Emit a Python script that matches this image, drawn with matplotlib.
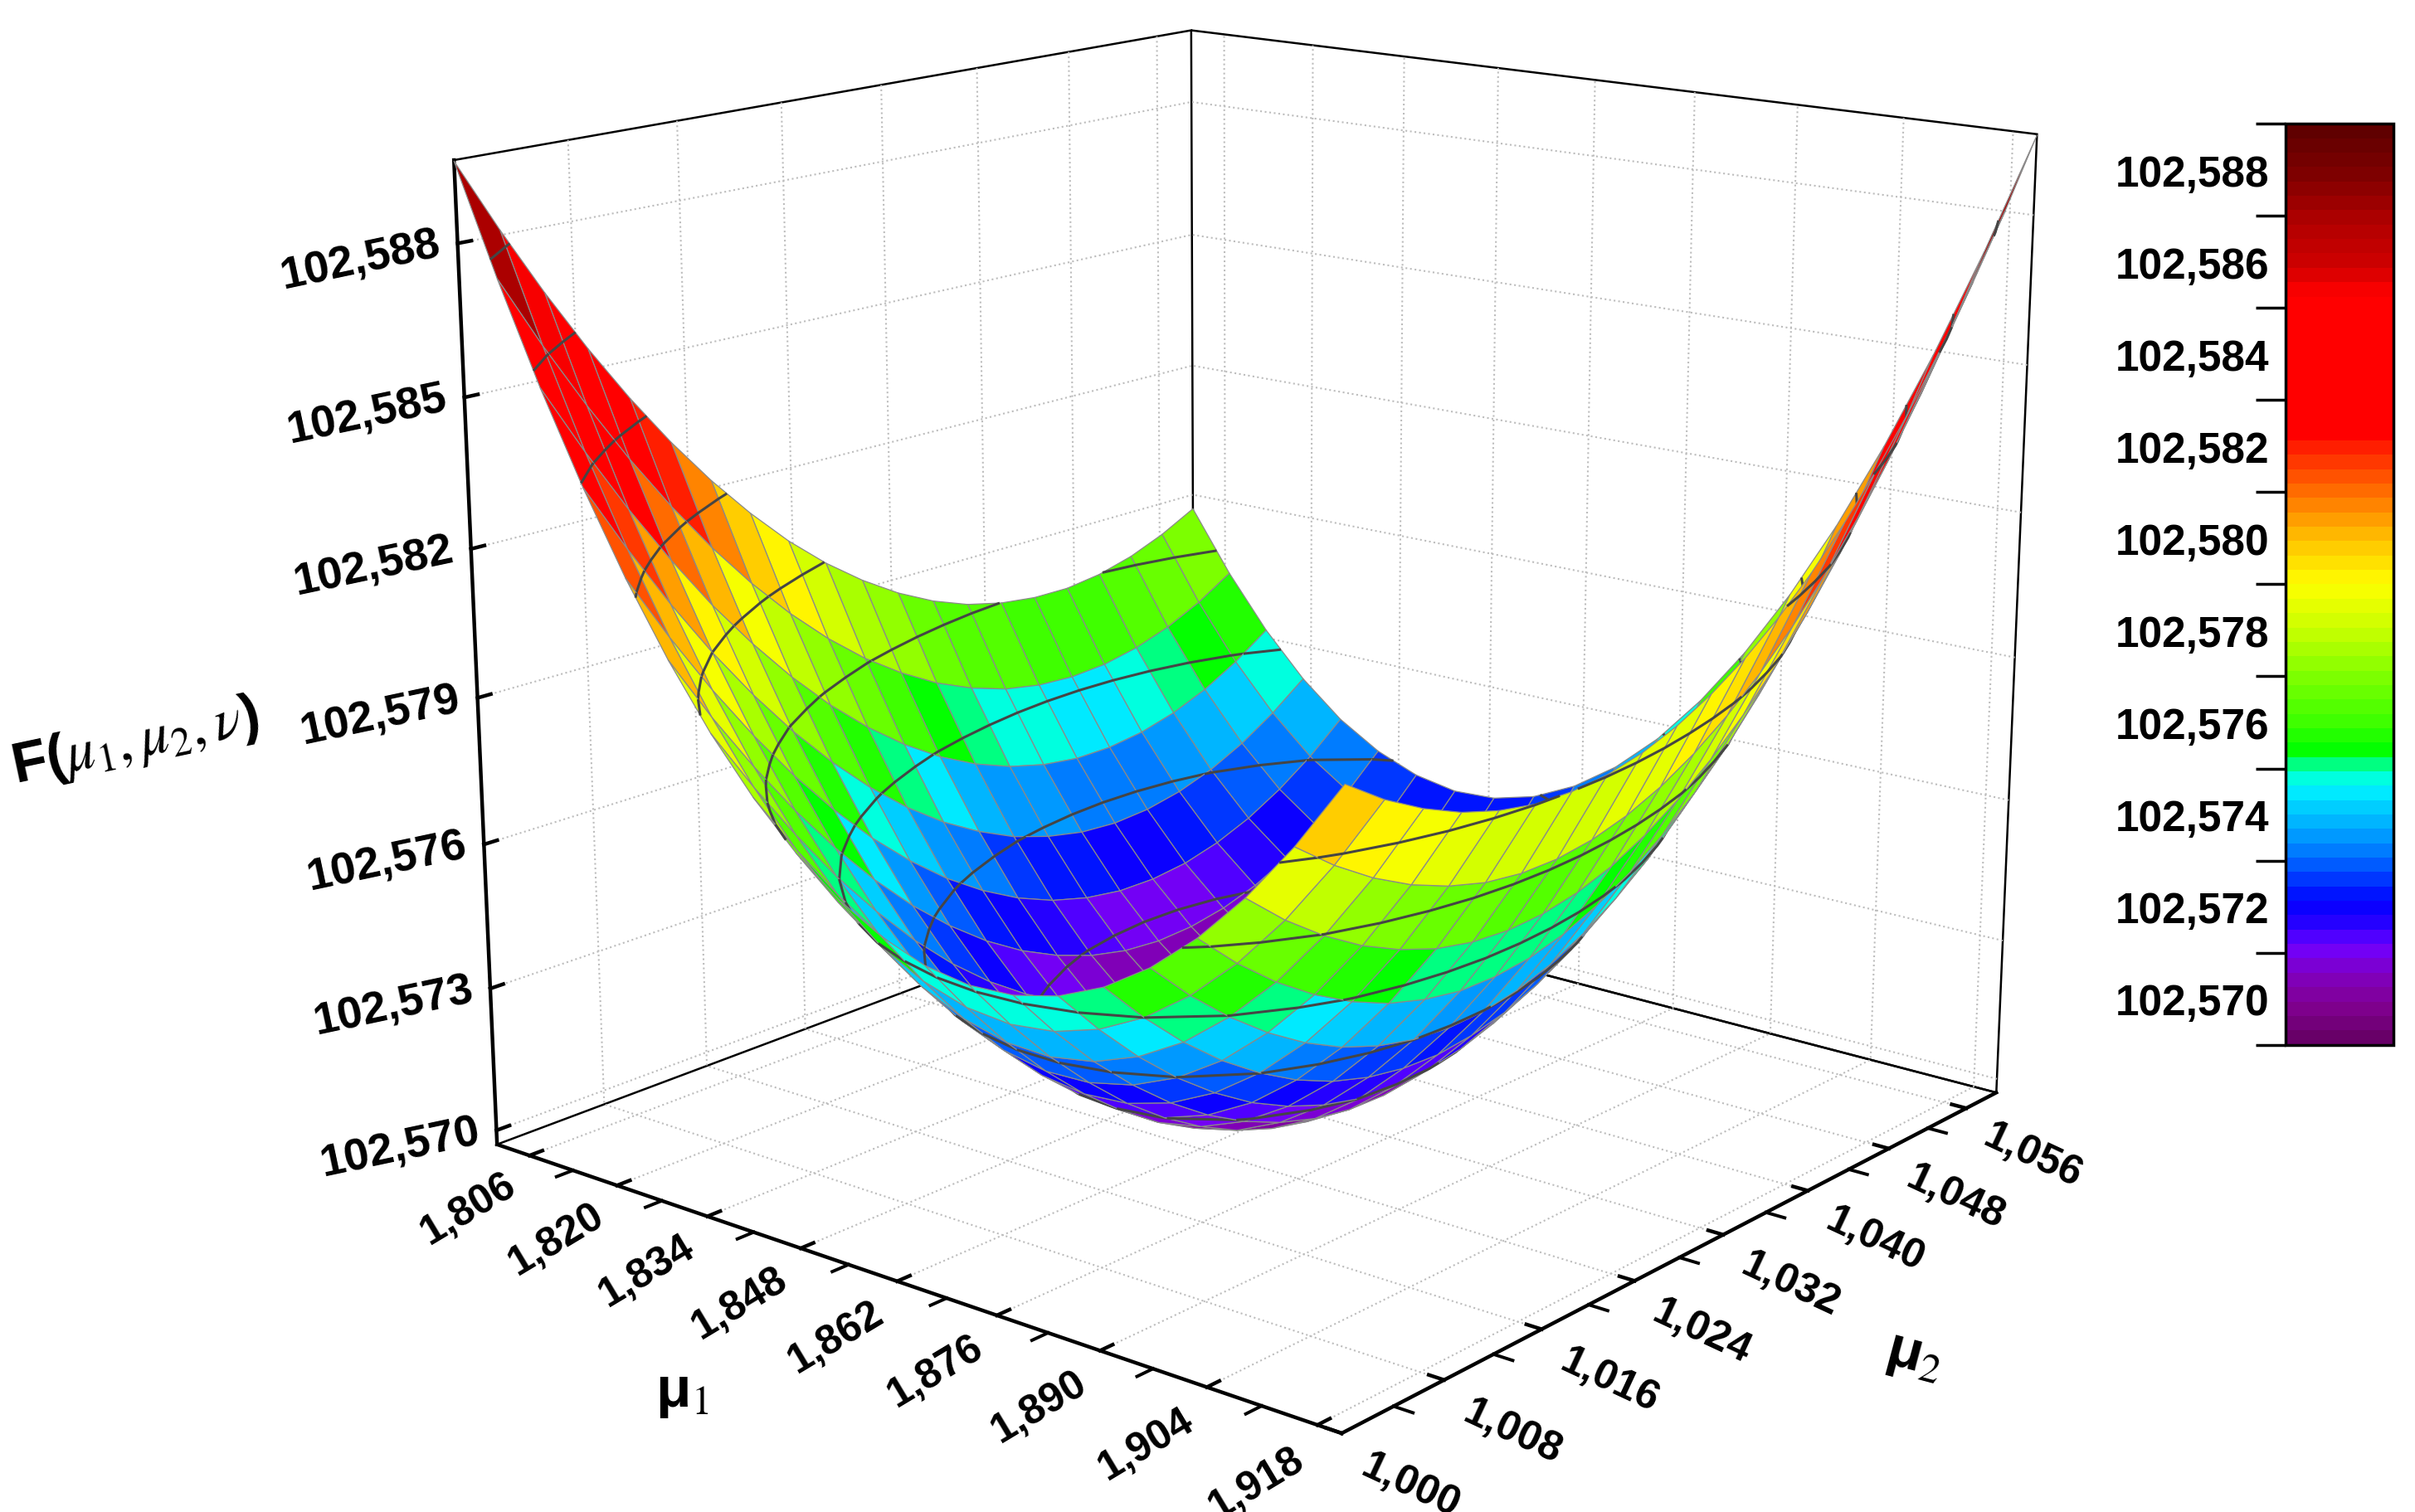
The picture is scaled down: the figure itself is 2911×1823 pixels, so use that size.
import numpy as np
import matplotlib
matplotlib.use('Agg')
import matplotlib.pyplot as plt
from matplotlib.colors import LinearSegmentedColormap, Normalize
from matplotlib.cm import ScalarMappable

plt.rcParams['font.family'] = ['Liberation Sans', 'DejaVu Sans']
plt.rcParams['mathtext.fontset'] = 'custom'
plt.rcParams['mathtext.rm'] = 'STIXGeneral'
plt.rcParams['mathtext.it'] = 'STIXGeneral:italic'
plt.rcParams['mathtext.bf'] = 'Liberation Sans:bold'

# thousandths above 102,5 : one row per mu1 value, one column per mu2 value
F_table = np.array([
    [89.58,88.10,86.71,85.42,84.23,83.14,82.15,81.26,80.46,79.77,79.18,78.68,78.28,77.98,77.79,77.69,77.68,77.78,77.98,78.28,78.67],
    [87.45,85.98,84.62,83.35,82.19,81.13,80.17,79.31,78.55,77.89,77.34,76.88,76.53,76.27,76.12,76.07,76.12,76.27,76.52,76.87,77.33],
    [85.49,84.05,82.71,81.48,80.34,79.32,78.39,77.56,76.84,76.22,75.70,75.29,74.98,74.77,74.66,74.66,74.76,74.96,75.26,75.67,76.18],
    [83.72,82.31,81.00,79.79,78.69,77.69,76.80,76.01,75.32,74.74,74.27,73.89,73.63,73.46,73.40,73.45,73.60,73.85,74.21,74.67,75.23],
    [82.13,80.75,79.47,78.30,77.23,76.27,75.41,74.66,74.01,73.47,73.03,72.70,72.48,72.36,72.35,72.44,72.64,72.94,73.35,73.86,74.48],
    [80.73,79.37,78.13,76.99,75.96,75.03,74.21,73.50,72.89,72.39,72.00,71.71,71.53,71.46,71.50,71.64,71.88,72.24,72.70,73.26,73.94],
    [79.50,78.19,76.98,75.87,74.88,73.99,73.21,72.54,71.98,71.52,71.17,70.93,70.79,70.76,70.84,71.03,71.33,71.73,72.24,72.86,73.59],
    [78.46,77.18,76.01,74.95,73.99,73.15,72.41,71.78,71.26,70.84,70.54,70.34,70.25,70.27,70.40,70.63,70.98,71.43,71.99,72.66,73.43],
    [77.60,76.36,75.23,74.21,73.30,72.50,71.80,71.21,70.74,70.37,70.11,69.96,69.91,69.98,70.15,70.44,70.83,71.33,71.94,72.66,73.48],
    [76.92,75.73,74.64,73.66,72.80,72.04,71.39,70.85,70.42,70.09,69.88,69.77,69.78,69.89,70.11,70.44,70.88,71.43,72.09,72.85,73.73],
    [76.43,75.28,74.24,73.31,72.49,71.78,71.17,70.68,70.29,70.02,69.85,69.79,69.84,70.00,70.27,70.65,71.14,71.73,72.44,73.25,74.18],
    [76.11,75.01,74.02,73.14,72.37,71.71,71.15,70.71,70.37,70.14,70.02,70.01,70.11,70.32,70.64,71.06,71.60,72.24,72.99,73.85,74.82],
    [75.98,74.93,73.99,73.17,72.44,71.83,71.33,70.93,70.65,70.47,70.40,70.44,70.58,70.84,71.20,71.67,72.26,72.95,73.74,74.65,75.66],
    [76.03,75.04,74.15,73.38,72.71,72.15,71.70,71.36,71.12,70.99,70.97,71.06,71.26,71.56,71.97,72.49,73.12,73.85,74.70,75.65,76.71],
    [76.26,75.33,74.50,73.78,73.17,72.66,72.27,71.98,71.79,71.72,71.75,71.89,72.13,72.48,72.94,73.51,74.18,74.96,75.85,76.85,77.95],
    [76.67,75.80,75.03,74.37,73.82,73.37,73.03,72.80,72.67,72.64,72.73,72.91,73.21,73.61,74.12,74.73,75.45,76.28,77.21,78.25,79.39],
    [77.27,76.46,75.76,75.16,74.66,74.27,73.99,73.81,73.74,73.77,73.90,74.14,74.49,74.94,75.49,76.16,76.92,77.79,78.77,79.85,81.03],
    [78.05,77.30,76.66,76.13,75.70,75.37,75.15,75.02,75.01,75.09,75.28,75.58,75.97,76.47,77.08,77.78,78.59,79.51,80.52,81.65,82.87],
    [79.01,78.33,77.76,77.29,76.93,76.66,76.50,76.44,76.48,76.62,76.86,77.21,77.66,78.21,78.86,79.61,80.47,81.42,82.48,83.64,84.91],
    [80.15,79.55,79.05,78.65,78.35,78.14,78.04,78.04,78.14,78.34,78.64,79.04,79.54,80.14,80.84,81.64,82.54,83.54,84.64,85.84,87.14],
    [81.47,80.94,80.52,80.19,79.96,79.82,79.79,79.85,80.01,80.27,80.63,81.08,81.63,82.28,83.03,83.88,84.82,85.87,87.01,88.24,89.58],
])

mu1_limits = (1.8007, 1.921)
mu2_limits = (1.000, 1.0592)
F_limits = (102.5697, 102.5896)

mu1_ticks = [1.806, 1.820, 1.834, 1.848, 1.862, 1.876, 1.890, 1.904, 1.918]
mu2_ticks = [1.000, 1.008, 1.016, 1.024, 1.032, 1.040, 1.048, 1.056]
F_ticks = [102.570, 102.573, 102.576, 102.579, 102.582, 102.585, 102.588]
contour_levels = [102.5718, 102.5738, 102.5758, 102.5778, 102.5798, 102.5818, 102.5838, 102.5858, 102.5878]
bar_edges = [102.569, 102.571, 102.573, 102.575, 102.577, 102.579, 102.581, 102.583, 102.585, 102.587, 102.589]
bar_labels = [102.570, 102.572, 102.574, 102.576, 102.578, 102.580, 102.582, 102.584, 102.586, 102.588]

color_stops = [
    (0.00, '#680068'), (0.035, '#800090'), (0.07, '#8000c0'), (0.10, '#7000ff'), (0.125, '#2800ff'),
    (0.15, '#0000ff'), (0.20, '#0070ff'), (0.23, '#00a8ff'), (0.265, '#00e0ff'), (0.28, '#00ffff'),
    (0.30, '#00ff90'), (0.315, '#00ff00'), (0.35, '#40ff00'), (0.40, '#80ff00'), (0.45, '#c8ff00'),
    (0.50, '#ffff00'), (0.55, '#ffc000'), (0.60, '#ff7000'), (0.65, '#ff2000'), (0.665, '#ff0000'),
    (0.82, '#ff0000'), (0.85, '#d00000'), (0.90, '#b00000'), (0.95, '#800000'), (1.00, '#600000'),
]
cmap = LinearSegmentedColormap.from_list('levels', color_stops, N=64)
norm = Normalize(102.569, 102.589)
surface_norm = Normalize(102.5698, 102.5898)


def tick_text(values, decimals=3):
    return [f'{v:.{decimals}f}'.replace('.', ',') for v in values]


mu1 = np.linspace(mu1_limits[0], mu1_limits[1], F_table.shape[0])
mu2 = np.linspace(mu2_limits[0], mu2_limits[1], F_table.shape[1])
M2, M1 = np.meshgrid(mu2, mu1)
F = 102.5 + F_table / 1000.0

fig_w, fig_h = 2911, 1824
scale = fig_w / 1568
fig = plt.figure(figsize=(fig_w / 100, fig_h / 100), dpi=100)
size = 2400
center_x, center_y = 1483, fig_h - 812
ax = fig.add_axes([(center_x - size / 2) / fig_w, (center_y - size / 2) / fig_h, size / fig_w, size / fig_h],
                  projection='3d', computed_zorder=False)
ax.patch.set_alpha(0)
ax.set_proj_type('persp', focal_length=0.46)
ax.view_init(elev=15.5, azim=-50.5)
ax.set_box_aspect((1.0, 1.0, 0.921), zoom=0.9)
ax.set_xlim(*mu1_limits)
ax.set_ylim(*mu2_limits)
ax.set_zlim(*F_limits)

# strips go back to front so the contour lines get hidden by the nearer part of the bowl
for i in range(F.shape[0] - 1):
    ax.plot_surface(M1[i:i + 2], M2[i:i + 2], F[i:i + 2], rstride=1, cstride=1, cmap=cmap, norm=surface_norm,
                    edgecolor='#8a8a8a', linewidth=0.9, shade=False, zorder=10 + 2 * i)
    strip = F[i:i + 2]
    levels = [l for l in contour_levels if strip.min() < l < strip.max()]
    if levels:
        ax.contour(M1[i:i + 2], M2[i:i + 2], strip, levels=levels, colors='#454545',
                   linewidths=2.2, zorder=11 + 2 * i)

for axis in (ax.xaxis, ax.yaxis, ax.zaxis):
    axis.pane.set_alpha(None)
    axis.pane.set_facecolor((1, 1, 1, 0))
    axis.pane.set_edgecolor('black')
    axis.pane.set_linewidth(1.8)
    axis.line.set_linewidth(3.2)
    axis.line.set_color('black')
    axis._axinfo['grid'].update(color='#bdbdbd', linestyle=':', linewidth=1.5)
    axis._axinfo['tick'].update(inward_factor=0.0, outward_factor=0.2)
    axis._axinfo['tick']['linewidth'] = {True: 3.2, False: 2.0}

ax.set_xticks(mu1_ticks)
ax.set_xticklabels(tick_text(mu1_ticks), fontsize=36, fontweight='bold', rotation=31,
                   ha='right', va='center', rotation_mode='anchor')
ax.set_yticks(mu2_ticks)
ax.set_yticklabels(tick_text(mu2_ticks), fontsize=36, fontweight='bold', rotation=-25,
                   ha='left', va='center', rotation_mode='anchor')
ax.set_zticks(F_ticks)
ax.set_zticklabels(tick_text(F_ticks), fontsize=39, fontweight='bold', rotation=12,
                   ha='right', va='center', rotation_mode='anchor')
ax.zaxis.set_ticks_position('lower')
ax.tick_params(axis='x', pad=11)
ax.tick_params(axis='y', pad=12)
ax.tick_params(axis='z', pad=2)

# minor ticks halfway between the labelled ones
x_minor = (np.array(mu1_ticks[:-1]) + np.array(mu1_ticks[1:])) / 2
y_minor = (np.array(mu2_ticks[:-1]) + np.array(mu2_ticks[1:])) / 2
for m in x_minor:
    ax.plot([m, m], [mu2_limits[0], mu2_limits[0] - 0.0012], [F_limits[0], F_limits[0]], color='black', lw=2.8, zorder=5)
for m in y_minor:
    ax.plot([mu1_limits[1], mu1_limits[1] + 0.0024], [m, m], [F_limits[0], F_limits[0]], color='black', lw=2.8, zorder=5)
ax.set_xlim(*mu1_limits)
ax.set_ylim(*mu2_limits)
ax.set_zlim(*F_limits)

fig.text(88 * scale / fig_w, 1 - 482 * scale / fig_h, r'$\mathbf{F(}\mu_1,\mu_2,\nu\mathbf{)}$', fontsize=50, rotation=12, ha='center', va='center')
fig.text(443 * scale / fig_w, 1 - 905 * scale / fig_h, r'$\mathbf{\mu}_{\mathit{1}}$', fontsize=50, ha='center', va='center')
fig.text(1243 * scale / fig_w, 1 - 881 * scale / fig_h, r'$\mathbf{\mu}_2$', fontsize=50, rotation=-15, ha='center', va='center')

cax = fig.add_axes([1484 * scale / fig_w, 1 - 679 * scale / fig_h, 70 * scale / fig_w, 598 * scale / fig_h])
sm = ScalarMappable(norm=norm, cmap=cmap)
cb = fig.colorbar(sm, cax=cax)
cb.outline.set_linewidth(2.5)
cax.yaxis.set_ticks_position('left')
cax.set_yticks(bar_edges, labels=[])
cax.set_yticks(bar_labels, labels=tick_text(bar_labels), minor=True)
cax.tick_params(which='major', length=26, width=2.5)
cax.tick_params(which='minor', length=0, labelsize=37, pad=14)
for label in cax.get_yticklabels(minor=True):
    label.set_fontweight('bold')

fig.savefig('out.png', dpi=100)
